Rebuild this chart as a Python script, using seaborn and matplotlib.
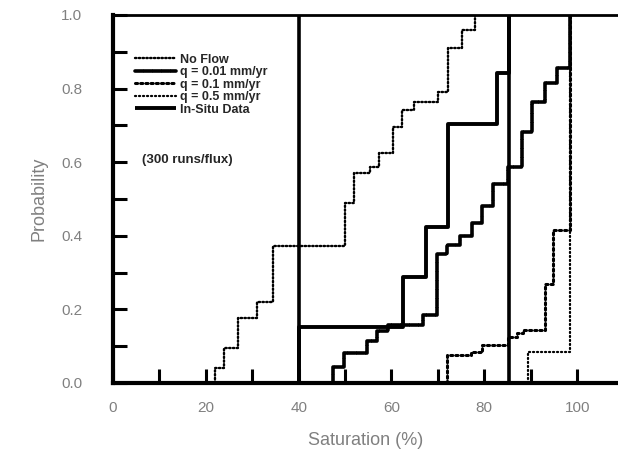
import matplotlib
matplotlib.use("Agg")
import matplotlib.pyplot as plt
from matplotlib.ticker import MultipleLocator, FormatStrFormatter
import seaborn as sns
import pandas as pd

# ---- data ----
noflow_x = [22, 24, 27, 31, 34.5, 50, 52, 55.4, 57.4, 60.4, 62.3, 64.9, 70, 72.2, 75.2, 78]
noflow_y = [0.04, 0.095, 0.177, 0.22, 0.372, 0.49, 0.57, 0.587, 0.625, 0.697, 0.742, 0.764, 0.79, 0.91, 0.96, 1.0]

q001_x = [47.4, 49.8, 54.7, 56.9, 59.3, 66.8, 69.8, 72.0, 74.8, 77.4, 79.5, 81.9, 85.1, 88.1, 90.3, 93.1, 95.7, 98.5]
q001_y = [0.043, 0.082, 0.114, 0.141, 0.157, 0.185, 0.35, 0.375, 0.40, 0.435, 0.48, 0.54, 0.587, 0.682, 0.764, 0.815, 0.857, 1.0]

q01_x = [72.0, 77.2, 79.5, 85.1, 87.0, 88.4, 93.1, 94.8, 98.5]
q01_y = [0.076, 0.084, 0.103, 0.125, 0.135, 0.144, 0.27, 0.415, 1.0]

q05_x = [89.4, 98.5]
q05_y = [0.084, 1.0]

insitu_x = [40.0, 62.5, 67.5, 72.2, 82.8, 85.3]
insitu_y = [0.152, 0.288, 0.424, 0.704, 0.843, 1.0]
insitu_range = [40.0, 85.3]

labels = ["No Flow", "q = 0.01 mm/yr", "q = 0.1 mm/yr", "q = 0.5 mm/yr", "In-Situ Data"]
series = [(noflow_x, noflow_y), (q001_x, q001_y), (q01_x, q01_y), (q05_x, q05_y), (insitu_x, insitu_y)]

styles = {
    "No Flow": dict(ls=(0, (0.6, 1.0)), lw=1.7),
    "q = 0.01 mm/yr": dict(ls=(0, (2.0, 0.5)), lw=2.6),
    "q = 0.1 mm/yr": dict(ls=(0, (0.7, 1.0)), lw=2.2),
    "q = 0.5 mm/yr": dict(ls=(0, (0.5, 1.3)), lw=1.6),
    "In-Situ Data": dict(ls="-", lw=2.8),
}

rows = []
for lab, (xs, ys) in zip(labels, series):
    rows.append((xs[0], 0.0, lab))
    for x, y in zip(xs, ys):
        rows.append((x, y, lab))
df = pd.DataFrame(rows, columns=["Saturation", "Probability", "series"])

sns.set_theme(style="white")
plt.rcParams["font.family"] = ["Liberation Sans", "DejaVu Sans"]

fig = plt.figure(figsize=(6.18, 4.58), dpi=100)
ax = fig.add_axes([113 / 618, 75 / 458, 1 - 113 / 618, 368 / 458])

for lab in labels:
    sub = df[df["series"] == lab]
    st = styles[lab]
    sns.lineplot(data=sub, x="Saturation", y="Probability", ax=ax, color="black",
                 estimator=None, sort=False, drawstyle="steps-post",
                 linestyle=st["ls"], linewidth=st["lw"], label=lab,
                 solid_capstyle="butt", dash_capstyle="round")

for xv in insitu_range:
    ax.axvline(xv, color="black", lw=2.6)

ax.set_xlim(0, 108.8)
ax.set_ylim(0, 1.0)
ax.xaxis.set_major_locator(MultipleLocator(20))
ax.xaxis.set_minor_locator(MultipleLocator(10))
ax.yaxis.set_major_locator(MultipleLocator(0.2))
ax.yaxis.set_minor_locator(MultipleLocator(0.1))
ax.yaxis.set_major_formatter(FormatStrFormatter("%.1f"))

ax.tick_params(which="both", direction="in", length=10, width=2.2, color="black",
               bottom=True, left=True, top=False, right=False)
ax.tick_params(axis="x", which="major", labelsize=11, labelcolor="#808080", pad=13)
ax.tick_params(axis="y", which="major", labelsize=11, labelcolor="#808080", pad=22)

for s in ["left", "bottom"]:
    ax.spines[s].set_linewidth(3.0)
    ax.spines[s].set_color("black")
ax.spines["top"].set_linewidth(2.0)
ax.spines["top"].set_color("black")
ax.spines["right"].set_visible(False)

ax.set_xlabel("Saturation (%)", fontsize=13, color="#808080", labelpad=12)
ax.set_ylabel("Probability", fontsize=13, color="#808080", labelpad=10)

leg = ax.legend(loc="upper left", bbox_to_anchor=(0.044, 0.895), frameon=False,
                prop=dict(size=9, weight="bold"), handlelength=3.3,
                handletextpad=0.25, labelspacing=0.04, borderpad=0, borderaxespad=0)
for h in leg.get_lines():
    h.set_color("black")

ax.text(0.057, 0.605, "(300 runs/flux)", transform=ax.transAxes, fontsize=9.5,
        fontweight="bold", ha="left", va="center")

fig.savefig("out.png", dpi=100)
